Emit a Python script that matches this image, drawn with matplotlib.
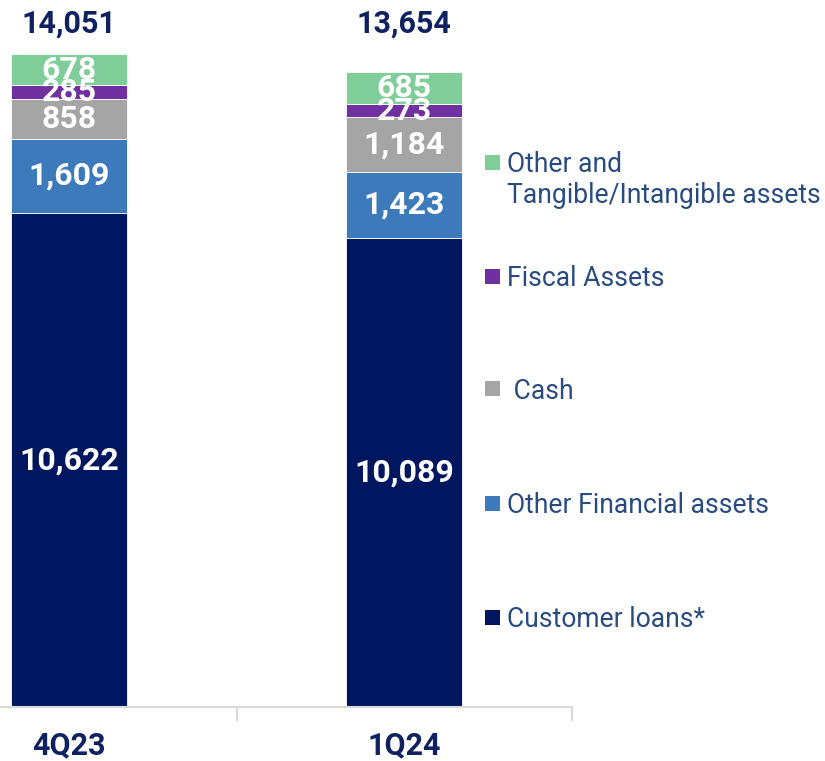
import matplotlib.pyplot as plt
from matplotlib.patches import Rectangle

plt.rcParams['font.family'] = ['Roboto', 'DejaVu Sans']

quarters = ['4Q23', '1Q24']
series = ['Customer loans*', 'Other Financial assets', ' Cash', 'Fiscal Assets',
          'Other and\nTangible/Intangible assets']
customer_loans = [10622, 10089]
other_financial = [1609, 1423]
cash = [858, 1184]
fiscal = [285, 273]
other_tangible = [678, 685]
totals = [14051, 13654]

colors = ['#00165f', '#3c7abb', '#a5a5a5', '#7030a0', '#7fcd99']
navy = '#0f2160'
legend_color = '#294b80'

W, H = 825, 761
fig = plt.figure(figsize=(W / 100, H / 100), dpi=100)

# axes spans from the left edge to the end of the baseline
ax = fig.add_axes([0, 54 / H, 572 / W, 707 / H])
ax.set_xlim(-0.206, 1.5)
ax.set_ylim(0, 15211)

stack = [customer_loans, other_financial, cash, fiscal, other_tangible]
bottoms = [0, 0]
width = 0.346
for vals, col in zip(stack, colors):
    ax.bar(range(len(quarters)), vals, width, bottom=bottoms, color=col,
           edgecolor='white', linewidth=0.6)
    for i, v in enumerate(vals):
        ax.text(i, bottoms[i] + v / 2, f'{v:,}', ha='center', va='center',
                color='white', fontsize=23, fontweight='bold')
    bottoms = [b + v for b, v in zip(bottoms, vals)]

# totals sit on one row above both bars
for i, t in enumerate(totals):
    ax.text(i, 14700, f'{t:,}', ha='center', va='center', color=navy,
            fontsize=22, fontweight='bold')

for s in ['top', 'right', 'left']:
    ax.spines[s].set_visible(False)
ax.spines['bottom'].set_color('#d9d9d9')
ax.spines['bottom'].set_linewidth(1.5)
ax.set_yticks([])
ax.set_xticks(range(len(quarters)))
ax.set_xticklabels(quarters, fontsize=22, fontweight='bold', color=navy)
ax.tick_params(axis='x', which='major', length=0, pad=17)
ax.set_xticks([0.5, 1.5], minor=True)
ax.tick_params(axis='x', which='minor', length=10, width=1.5, color='#d9d9d9')

# legend, top item first
legend_rows = [(162, 4), (276, 3), (389, 2), (503, 1), (617, 0)]
for yc, k in legend_rows:
    fig.add_artist(Rectangle((485 / W, 1 - (yc + 7.5) / H), 15 / W, 15 / H,
                             transform=fig.transFigure, color=colors[k], lw=0))
    fig.text(507 / W, 1 - (yc - 11) / H, series[k], ha='left', va='top',
             fontsize=19.1, color=legend_color, linespacing=1.2)

fig.savefig('out.png', dpi=100)
